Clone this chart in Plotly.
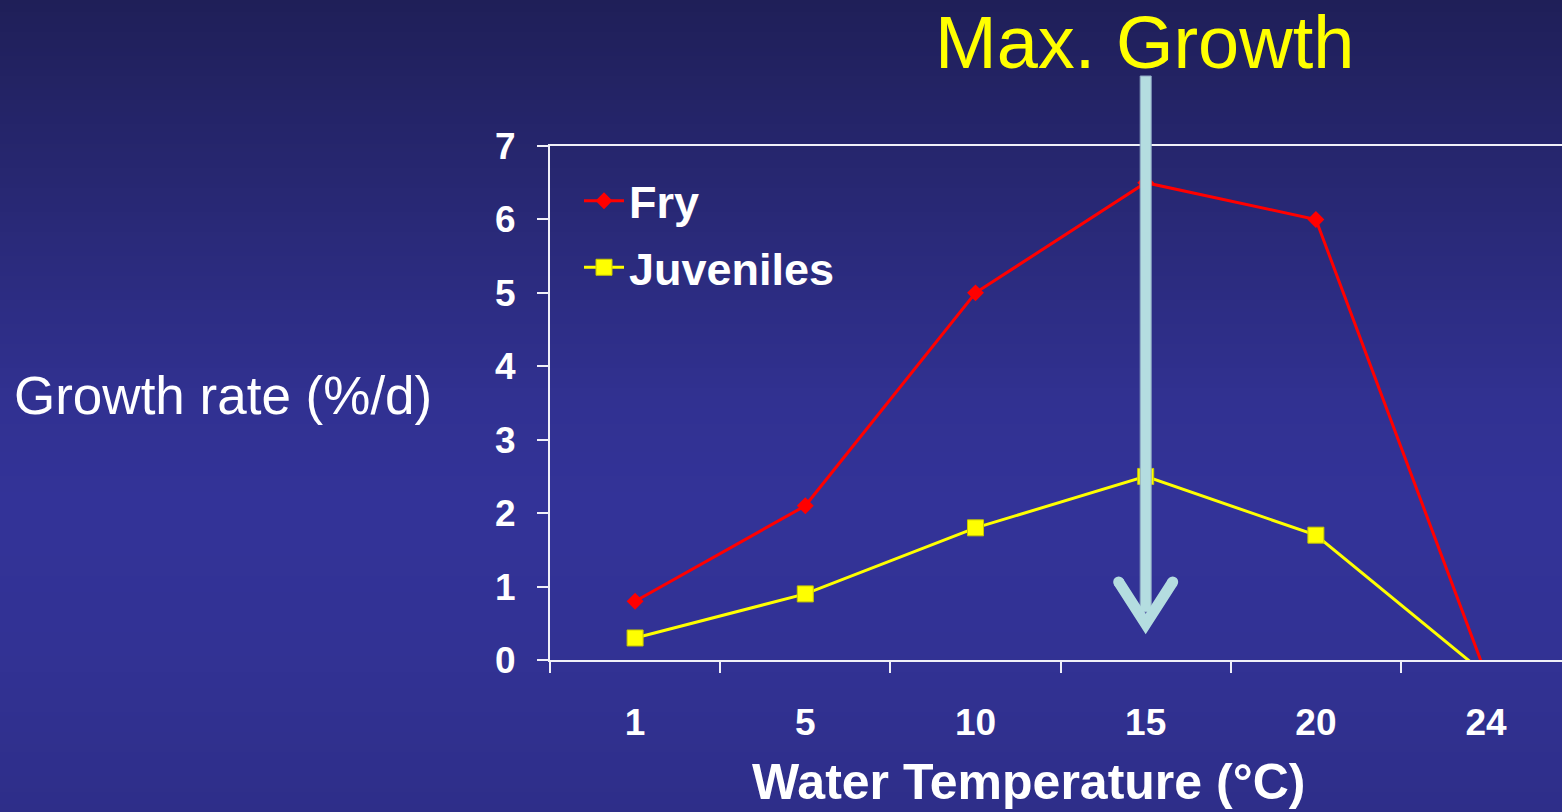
import plotly.graph_objects as go

# Growth rate by water temperature
temperatures = ["1", "5", "10", "15", "20", "24"]
fry = [0.8, 2.1, 5.0, 6.5, 6.0, -0.2]
juveniles = [0.3, 0.9, 1.8, 2.5, 1.7, -0.2]
peak_label = "Max. Growth"
peak_category = "15"

W, H = 1562, 812
M_L, M_R, M_T, M_B = 550, 0, 146, 152
PW = W - M_L - M_R
PH = H - M_T - M_B
X_RANGE = [-0.5, 5.446]
FONT = "Liberation Sans, Arial, sans-serif"


def px_x(px):
    """page pixel column -> paper x"""
    return (px - M_L) / PW


def px_y(py):
    """page pixel row -> paper y"""
    return (H - M_B - py) / PH


def cat_to_paper(cat):
    i = temperatures.index(cat)
    return (i - X_RANGE[0]) / (X_RANGE[1] - X_RANGE[0])


fig = go.Figure()

fig.add_trace(go.Scatter(
    x=temperatures, y=fry, name="Fry", mode="lines+markers",
    line=dict(color="#ff0000", width=3),
    marker=dict(symbol="diamond", size=13, color="#ff0000"),
    legendgroup="fry",
))
fig.add_trace(go.Scatter(
    x=temperatures, y=juveniles, name="Juveniles", mode="lines+markers",
    line=dict(color="#ffff00", width=3),
    marker=dict(symbol="square", size=16, color="#ffff00",
                line=dict(color="#c8c800", width=1)),
    legendgroup="juv",
))

shapes = []

# vertical background gradient
stops = [(0, (31, 31, 88)), (200, (40, 40, 116)), (400, (49, 49, 145)),
         (500, (51, 51, 152)), (650, (50, 50, 148)), (812, (46, 46, 137))]


def grad(py):
    for (a, ca), (b, cb) in zip(stops[:-1], stops[1:]):
        if a <= py <= b:
            t = (py - a) / (b - a)
            return tuple(round(ca[k] + (cb[k] - ca[k]) * t) for k in range(3))
    return stops[-1][1]


n_bands = 203
band = H / n_bands
for i in range(n_bands):
    y0 = i * band
    y1 = y0 + band + 0.6
    c = grad(y0 + band / 2)
    shapes.append(dict(
        type="rect", xref="paper", yref="paper", layer="below",
        x0=px_x(0), x1=px_x(W), y0=px_y(y1), y1=px_y(y0),
        fillcolor="rgb(%d,%d,%d)" % c, line=dict(width=0),
    ))

# arrow pointing at the peak temperature
arrow_col = "#b4dde0"
xc = M_L + cat_to_paper(peak_category) * PW
shapes.append(dict(
    type="rect", xref="paper", yref="paper", layer="above",
    x0=px_x(xc - 5.5), x1=px_x(xc + 5.5), y0=px_y(612), y1=px_y(76),
    fillcolor=arrow_col, line=dict(color="#8fa8c4", width=1),
))
arm_dx, arm_top, tip = 27, 582, 624
head = "M %f,%f L %f,%f L %f,%f" % (
    px_x(xc - arm_dx), px_y(arm_top), px_x(xc), px_y(tip),
    px_x(xc + arm_dx), px_y(arm_top))
shapes.append(dict(type="path", xref="paper", yref="paper", layer="above",
                   path=head, line=dict(color=arrow_col, width=11)))
for sx in (xc - arm_dx, xc + arm_dx):
    shapes.append(dict(
        type="circle", xref="paper", yref="paper", layer="above",
        x0=px_x(sx - 5.5), x1=px_x(sx + 5.5),
        y0=px_y(arm_top + 5.5), y1=px_y(arm_top - 5.5),
        fillcolor=arrow_col, line=dict(width=0),
    ))

annotations = [
    dict(text=peak_label, xref="paper", yref="paper", x=px_x(xc - 1), y=px_y(42),
         xanchor="center", yanchor="middle", showarrow=False,
         font=dict(family=FONT, size=74, color="#ffff00")),
    dict(text="Growth rate (%/d)", xref="paper", yref="paper",
         x=px_x(223), y=px_y(395), xanchor="center", yanchor="middle",
         showarrow=False, font=dict(family=FONT, size=53, color="#ffffff")),
    dict(text="Water Temperature (°C)", xref="paper", yref="paper",
         x=px_x(1028), y=px_y(782), xanchor="center", yanchor="middle",
         showarrow=False,
         font=dict(family=FONT, size=50, color="#ffffff", weight="bold")),
]

fig.update_layout(
    width=W, height=H,
    margin=dict(l=M_L, r=M_R, t=M_T, b=M_B, pad=0),
    paper_bgcolor="#2a2a7a", plot_bgcolor="rgba(0,0,0,0)",
    shapes=shapes, annotations=annotations,
    showlegend=True,
    legend=dict(
        x=px_x(579), y=px_y(165), xanchor="left", yanchor="top",
        bgcolor="rgba(0,0,0,0)", borderwidth=0, tracegroupgap=5,
        font=dict(family=FONT, size=45, color="#ffffff", weight="bold"),
        itemwidth=40,
    ),
)

fig.update_xaxes(
    type="category", categoryorder="array", categoryarray=temperatures,
    range=X_RANGE, tickson="boundaries",
    showline=True, linecolor="#f0f0f8", linewidth=2, mirror=True,
    ticks="outside", ticklen=11, tickwidth=2, tickcolor="#f0f0f8",
    showgrid=False, zeroline=False, ticklabelstandoff=29,
    tickfont=dict(family=FONT, size=37, color="#ffffff", weight="bold"),
)
fig.update_yaxes(
    range=[0, 7], dtick=1, tick0=0,
    showline=True, linecolor="#f0f0f8", linewidth=2,
    ticks="outside", ticklen=11, tickwidth=2, tickcolor="#f0f0f8",
    showgrid=False, zeroline=False, ticklabelstandoff=14,
    tickfont=dict(family=FONT, size=37, color="#ffffff", weight="bold"),
)

fig.write_html("out.html")
